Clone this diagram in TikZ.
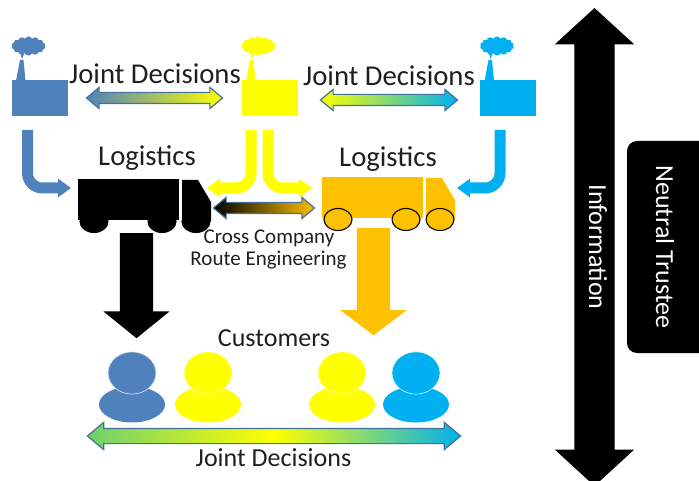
\documentclass[tikz,border=0pt]{standalone}
\usepackage{fontspec}
\setmainfont{Carlito}
\usetikzlibrary{arrows.meta,shapes.arrows,shapes.geometric,shapes.symbols}

\definecolor{plantblue}{HTML}{4F81BD}
\definecolor{plantyellow}{HTML}{FFFF00}
\definecolor{plantcyan}{HTML}{00B0F0}
\definecolor{truckorange}{HTML}{FFC000}
\definecolor{edgeblue}{HTML}{41719C}
\definecolor{custgreen}{HTML}{70CF70}

\tikzset{
  label29/.style={font=\fontsize{28.7}{29}\selectfont,text=black!88},
  label26/.style={font=\fontsize{26}{26}\selectfont,text=black!88},
  label21/.style={font=\fontsize{21}{21}\selectfont,text=black!88},
  joint/.style={shape=double arrow,draw=edgeblue,line width=1.2pt,inner xsep=0pt,inner ysep=5pt,
    double arrow head extend=5pt,double arrow tip angle=80},
  fatdown/.style={shape=single arrow,draw=none,inner sep=16.5pt,shape border rotate=270,
    single arrow head extend=16.5pt,anchor=tail},
  bent/.style={line width=11pt,rounded corners=15pt},
}

\begin{document}
\begin{tikzpicture}[x=1pt,y=-1pt]
\useasboundingbox (0,0) rectangle (699,481);

% factories
\foreach \fname/\fx/\fcol in {blue/0/plantblue,yellow/230/plantyellow,cyan/468.5/plantcyan} {
  \begin{scope}[xshift=\fx pt]
    \node[fill=\fcol,minimum width=56pt,minimum height=36pt,inner sep=0pt] (plant\fname) at (39.5,98) {};
    \fill[\fcol] (16,81) -- (20,60) -- (23.5,60) -- (25.5,81) -- cycle;
    \node[cloud,cloud puffs=14,cloud puff arc=130,aspect=1.9,fill=\fcol,inner sep=0pt,
      minimum width=34pt,minimum height=19pt] (smoke\fname) at (28.5,46) {};
    \fill[\fcol] (20.5,54) -- (24,54) -- (22,59) -- cycle;
  \end{scope}
}

% trucks
\foreach \tname/\tx/\ty/\tcol in {left/-244/2/black,right/0/0/truckorange} {
  \begin{scope}[xshift=\tx pt,yshift=-\ty pt]
    \node[fill=\tcol,minimum width=101pt,minimum height=41pt,inner sep=0pt] (truck\tname) at (372.5,197.5) {};
    \fill[\tcol] (426,178) -- (442,178) -- (455,200) -- (455,219) -- (426,219) -- cycle;
    \foreach \wx in {338,406,440}
      \draw[black,line width=1.1pt,fill=\tcol] (\wx,219.5) ellipse[x radius=14,y radius=11];
  \end{scope}
}

% text
\node[label29] (jointleft) at (155,74) {Joint Decisions};
\node[label29] (jointright) at (389,76) {Joint Decisions};
\node[label29] (logleft) at (147,158.5) {Logistics};
\node[label29] (logright) at (388,159.5) {Logistics};
\node[label21] (crossco) at (269,238) {Cross Company};
\node[label21] (routeeng) at (268.5,260) {Route Engineering};
\node[label26] (customers) at (274,338) {Customers};
\node[label26] (jointbottom) at (273.5,458) {Joint Decisions};

% joint decision arrows
\node[joint,minimum height=136pt,left color=plantblue,right color=plantyellow] (armleft) at (154.5,98) {};
\node[joint,minimum height=137pt,left color=plantyellow,right color=plantcyan] (armright) at (389,100) {};
\node[joint,minimum height=101pt,left color=black,right color=truckorange] (armroute) at (264,208) {};
\node[joint,inner ysep=7pt,double arrow head extend=6pt,minimum height=373pt,left color=custgreen,right color=plantcyan,middle color=plantyellow] (armcust) at (274,436) {};

% plant to truck
\coordinate (tipblue) at (71,188);
\coordinate (tipyl) at (207,188);
\coordinate (tipyr) at (312,188);
\coordinate (tipcyan) at (457,188);
\draw[bent,plantblue,-{Triangle[length=13pt,width=18pt]}] (27.5,130) |- (tipblue);
\draw[bent,plantyellow,-{Triangle[length=13pt,width=18pt]}] (251,130) |- (tipyl);
\draw[bent,plantyellow,-{Triangle[length=13pt,width=18pt]}] (268,130) |- (tipyr);
\draw[bent,plantcyan,-{Triangle[length=13pt,width=18pt]}] (500,130) |- (tipcyan);

% down to customers
\node[fatdown,fill=black,single arrow tip angle=102,minimum height=105pt] (dropleft) at (136.5,233) {};
\node[fatdown,fill=truckorange,single arrow tip angle=106,minimum height=107pt] (dropright) at (373.5,228) {};

% customers
\foreach \pname/\px/\pcol in {pa/132/plantblue,pb/208/plantyellow,pc/342/plantyellow,pd/416/plantcyan} {
  \fill[\pcol] (\px,404.5) ellipse[x radius=33,y radius=18];
  \node[circle,fill=\pcol,draw=white!85!\pcol,line width=0.6pt,inner sep=0pt,minimum width=48pt,
    yscale=0.88] (\pname) at (\px,373) {};
}

% information
\node[shape=double arrow,fill=black,inner sep=20pt,minimum height=478pt,
  double arrow head extend=19.5pt,double arrow tip angle=95,shape border rotate=90] (infoarrow) at (594.5,247) {};
\node[rotate=-90,label26,text=white] (infotext) at (598,247) {Information};
\node[fill=black,rounded corners=10pt,minimum width=92pt,minimum height=212pt,inner sep=0pt] (trustee) at (673,247) {};
\node[rotate=-90,label26,text=white] (trusteetext) at (665,247) {Neutral Trustee};
\end{tikzpicture}
\end{document}
